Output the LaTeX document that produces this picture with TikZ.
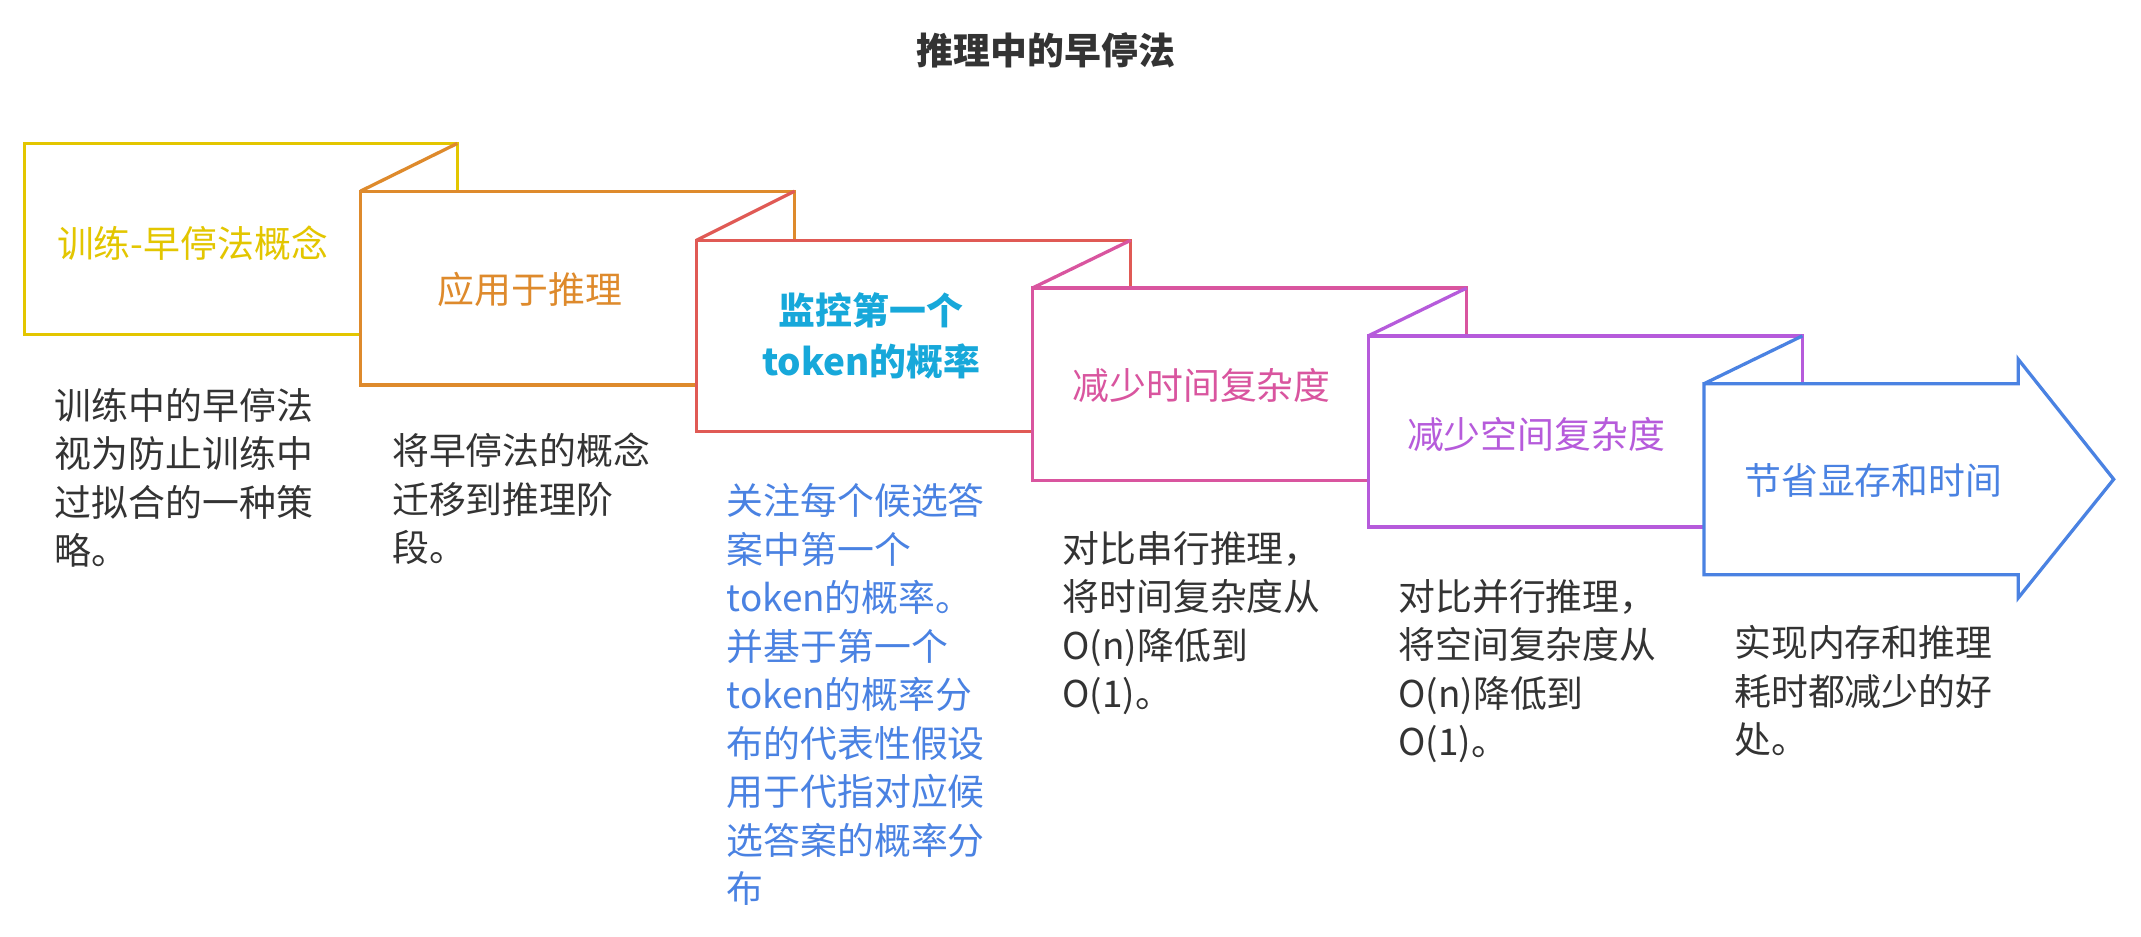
\documentclass[tikz,border=0pt]{standalone}
\usepackage{fontspec}
\setmainfont{Noto Sans CJK SC}
\begin{document}
\definecolor{cy}{HTML}{E3C600}
\definecolor{co}{HTML}{DE8A2C}
\definecolor{cr}{HTML}{E05A55}
\definecolor{cp}{HTML}{D9559F}
\definecolor{cv}{HTML}{B65BDB}
\definecolor{cb}{HTML}{4A82E2}
\definecolor{cc}{HTML}{17A8DA}
\definecolor{tg}{HTML}{333333}
\begin{tikzpicture}[x=1pt,y=-1pt,
  box/.style={line width=2.4pt,fill=white,line join=miter,draw=#1},
  lab/.style={font=\fontsize{27}{32}\selectfont,inner sep=0pt,align=center},
  desc/.style={font=\fontsize{27}{35.5}\selectfont,inner sep=0pt,align=left,anchor=north west,text=tg}]
\useasboundingbox (0,0) rectangle (1568,686);
\node[font=\fontsize{27}{30}\selectfont\bfseries,text=tg] (title) at (766,37) {推理中的早停法};
% box 1
\draw[box=cy] (18,105) rectangle (335,245);
% box 2
\draw[box=co] (264,140) rectangle (582,282);
\draw[box=co] (264,140) -- (335,105);
% box 3
\draw[box=cr] (510,176) rectangle (828,316);
\draw[box=cr] (510,176) -- (582,140);
% box 4
\draw[box=cp] (756,211) rectangle (1074,352);
\draw[box=cp] (756,211) -- (828,176);
% box 5
\draw[box=cv] (1002,246) rectangle (1320,386);
\draw[box=cv] (1002,246) -- (1074,211);
% arrow
\draw[box=cb] (1248,281) -- (1478,281) -- (1478,263) -- (1548,351) -- (1478,438) -- (1478,421) -- (1248,421) -- cycle;
\draw[box=cb] (1248,281) -- (1320,246);
% labels
\node[lab,text=cy] (l1) at (141,178) {训练-早停法概念};
\node[lab,text=co] (l2) at (388,212) {应用于推理};
\node[lab,text=cc,font=\fontsize{27}{37}\selectfont\bfseries] (l3) at (638,246) {监控第一个\\token的概率};
\node[lab,text=cp] (l4) at (880,282) {减少时间复杂度};
\node[lab,text=cv] (l5) at (1125,318) {减少空间复杂度};
\node[lab,text=cb] (l6) at (1372,352) {节省显存和时间};
% descriptions
\node[desc] (d1) at (40,284) {训练中的早停法\\视为防止训练中\\过拟合的一种策\\略。};
\node[desc] (d2) at (287,317) {将早停法的概念\\迁移到推理阶\\段。};
\node[desc,text=cb] (d3) at (532,354) {关注每个候选答\\案中第一个\\token的概率。\\并基于第一个\\token的概率分\\布的代表性假设\\用于代指对应候\\选答案的概率分\\布};
\node[desc] (d4) at (778,389) {对比串行推理，\\将时间复杂度从\\O(n)降低到\\O(1)。};
\node[desc] (d5) at (1024,424) {对比并行推理，\\将空间复杂度从\\O(n)降低到\\O(1)。};
\node[desc] (d6) at (1270,458) {实现内存和推理\\耗时都减少的好\\处。};
\end{tikzpicture}
\end{document}
